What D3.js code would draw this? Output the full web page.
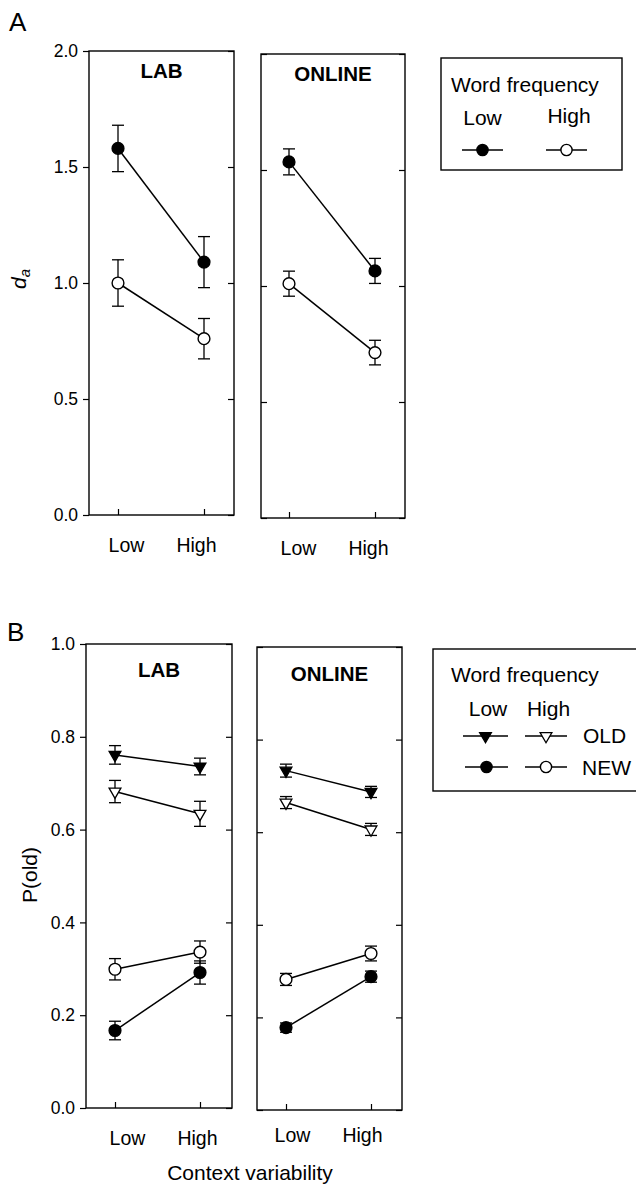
<!DOCTYPE html>
<html>
<head>
<meta charset="utf-8">
<script src="https://cdn.jsdelivr.net/npm/d3@7"></script>
<style>
  body { margin: 0; background: #fff; }
  svg text { font-family: Arial, "Liberation Sans", Helvetica, sans-serif; fill: #000; }
</style>
</head>
<body>
<script>
// categories on the x axis
const contexts = ['Low', 'High'];

// tick values
const daTicks = [0, 0.5, 1.0, 1.5, 2.0];
const pTicks = [0, 0.2, 0.4, 0.6, 0.8, 1.0];

// panel A : d_a (mean, error half width) -- Low / High context
const daLabLowFreq = [1.58, 1.09];
const daLabLowFreqErr = [0.10, 0.11];
const daLabHighFreq = [1.00, 0.76];
const daLabHighFreqErr = [0.10, 0.087];
const daOnlineLowFreq = [1.535, 1.065];
const daOnlineLowFreqErr = [0.056, 0.054];
const daOnlineHighFreq = [1.01, 0.713];
const daOnlineHighFreqErr = [0.054, 0.053];

// panel B : P(old)
const pLabOldLow = [0.761, 0.736];
const pLabOldLowErr = [0.02, 0.018];
const pLabOldHigh = [0.682, 0.634];
const pLabOldHighErr = [0.024, 0.027];
const pLabNewHigh = [0.299, 0.336];
const pLabNewHighErr = [0.023, 0.024];
const pLabNewLow = [0.167, 0.292];
const pLabNewLowErr = [0.02, 0.025];
const pOnlineOldLow = [0.733, 0.687];
const pOnlineOldLowErr = [0.014, 0.012];
const pOnlineOldHigh = [0.664, 0.606];
const pOnlineOldHighErr = [0.013, 0.013];
const pOnlineNewHigh = [0.282, 0.338];
const pOnlineNewHighErr = [0.013, 0.016];
const pOnlineNewLow = [0.178, 0.288];
const pOnlineNewLowErr = [0.01, 0.012];

const width = 636, height = 1189;

const svg = d3.select('body').append('svg')
  .attr('width', width)
  .attr('height', height);

const triSym = d3.symbol(d3.symbolTriangle, 60);

function drawPanel(p) {
  const g = svg.append('g');
  const x = d3.scalePoint().domain(contexts).range(p.xr);
  const y = d3.scaleLinear().domain(p.domain).range([p.bottom, p.top]);

  // frame
  g.append('rect')
    .attr('x', p.left).attr('y', p.top)
    .attr('width', p.right - p.left).attr('height', p.bottom - p.top)
    .attr('fill', 'none').attr('stroke', '#000').attr('stroke-width', 1.4);

  const left = d3.axisLeft(y).tickValues(p.ticks)
    .tickSize(p.labels ? 6 : -6).tickPadding(5)
    .tickFormat(p.labels ? d3.format('.1f') : '');
  g.append('g').attr('transform', 'translate(' + p.left + ',0)').call(left)
    .call(a => a.select('.domain').remove())
    .attr('font-size', 17.5).attr('font-family', null);

  const right = d3.axisRight(y).tickValues(p.ticks).tickSize(-6).tickFormat('');
  g.append('g').attr('transform', 'translate(' + p.right + ',0)').call(right)
    .call(a => a.select('.domain').remove());

  const bottom = d3.axisBottom(x).tickSize(-6).tickPadding(p.lblDy - 13.8);
  g.append('g').attr('transform', 'translate(0,' + p.bottom + ')').call(bottom)
    .call(a => a.select('.domain').remove())
    .attr('font-size', 19.5).attr('font-family', null)
    .selectAll('text').attr('dx', (d, i) => p.lblShift[i]);

  g.selectAll('.tick line').attr('stroke-width', 1.2);

  g.append('text')
    .attr('x', (p.left + p.right) / 2)
    .attr('y', p.top + p.titleDy)
    .attr('text-anchor', 'middle')
    .attr('font-weight', 'bold')
    .attr('font-size', 20.5)
    .text(p.title);

  p.series.forEach(s => {
    const pts = contexts.map((c, i) => ({c: c, v: s.mean[i], e: s.err[i]}));
    g.append('path')
      .attr('d', d3.line().x(d => x(d.c)).y(d => y(d.v))(pts))
      .attr('fill', 'none').attr('stroke', '#000').attr('stroke-width', 1.5);
    // error bars
    pts.forEach(d => {
      const eb = g.append('g').attr('stroke', '#000').attr('stroke-width', 1.3);
      eb.append('line').attr('x1', x(d.c)).attr('x2', x(d.c))
        .attr('y1', y(d.v - d.e)).attr('y2', y(d.v + d.e));
      [d.v - d.e, d.v + d.e].forEach(v => {
        eb.append('line').attr('x1', x(d.c) - 6).attr('x2', x(d.c) + 6)
          .attr('y1', y(v)).attr('y2', y(v));
      });
    });
    pts.forEach(d => drawMarker(g, s.marker, s.filled, x(d.c), y(d.v), 5.9));
  });
}

function drawMarker(g, marker, filled, cx, cy, r) {
  if (marker === 'circle') {
    g.append('circle').attr('cx', cx).attr('cy', cy).attr('r', r)
      .attr('fill', filled ? '#000' : '#fff').attr('stroke', '#000').attr('stroke-width', 1.4);
  } else {
    g.append('path').attr('d', triSym())
      .attr('transform', 'translate(' + cx + ',' + cy + ') rotate(180)')
      .attr('fill', filled ? '#000' : '#fff').attr('stroke', '#000').attr('stroke-width', 1.3);
  }
}

const panels = [
  {title: 'LAB', left: 89, right: 234, top: 51, bottom: 515, xr: [118, 204],
   domain: [0, 2], ticks: daTicks, labels: true, titleDy: 27, lblDy: 37, lblShift: [8, -8],
   series: [
     {mean: daLabLowFreq, err: daLabLowFreqErr, marker: 'circle', filled: true},
     {mean: daLabHighFreq, err: daLabHighFreqErr, marker: 'circle', filled: false}]},
  {title: 'ONLINE', left: 261, right: 405, top: 54, bottom: 518, xr: [289, 375],
   domain: [0, 2], ticks: daTicks, labels: false, titleDy: 27, lblDy: 37, lblShift: [9, -7],
   series: [
     {mean: daOnlineLowFreq, err: daOnlineLowFreqErr, marker: 'circle', filled: true},
     {mean: daOnlineHighFreq, err: daOnlineHighFreqErr, marker: 'circle', filled: false}]},
  {title: 'LAB', left: 86, right: 232, top: 644, bottom: 1108, xr: [115, 200],
   domain: [0, 1], ticks: pTicks, labels: true, titleDy: 33, lblDy: 37, lblShift: [12, -3],
   series: [
     {mean: pLabOldLow, err: pLabOldLowErr, marker: 'tri', filled: true},
     {mean: pLabOldHigh, err: pLabOldHighErr, marker: 'tri', filled: false},
     {mean: pLabNewHigh, err: pLabNewHighErr, marker: 'circle', filled: false},
     {mean: pLabNewLow, err: pLabNewLowErr, marker: 'circle', filled: true}]},
  {title: 'ONLINE', left: 257, right: 402, top: 647, bottom: 1110, xr: [286, 371],
   domain: [0, 1], ticks: pTicks, labels: false, titleDy: 34, lblDy: 32, lblShift: [6, -9],
   series: [
     {mean: pOnlineOldLow, err: pOnlineOldLowErr, marker: 'tri', filled: true},
     {mean: pOnlineOldHigh, err: pOnlineOldHighErr, marker: 'tri', filled: false},
     {mean: pOnlineNewHigh, err: pOnlineNewHighErr, marker: 'circle', filled: false},
     {mean: pOnlineNewLow, err: pOnlineNewLowErr, marker: 'circle', filled: true}]}
];
panels.forEach(drawPanel);

// panel letters
svg.append('text').attr('x', 9).attr('y', 31).attr('font-size', 26).text('A');
svg.append('text').attr('x', 7).attr('y', 641).attr('font-size', 26).text('B');

// y axis titles
const da = svg.append('text')
  .attr('transform', 'translate(26,279) rotate(-90)')
  .attr('text-anchor', 'middle').attr('font-size', 21);
da.append('tspan').attr('font-style', 'italic').text('d');
da.append('tspan').attr('font-style', 'italic').attr('font-size', 15).attr('dy', 4).text('a');

svg.append('text')
  .attr('transform', 'translate(37,875) rotate(-90)')
  .attr('text-anchor', 'middle').attr('font-size', 21)
  .text('P(old)');

svg.append('text').attr('x', 250).attr('y', 1180)
  .attr('text-anchor', 'middle').attr('font-size', 21)
  .text('Context variability');

// legend helpers
function legendLine(g, x0, x1, y, marker, filled) {
  g.append('line').attr('x1', x0).attr('x2', x1).attr('y1', y).attr('y2', y)
    .attr('stroke', '#000').attr('stroke-width', 1.4);
  drawMarker(g, marker, filled, (x0 + x1) / 2, y, 5.6);
}

// legend A
const legA = svg.append('g');
legA.append('rect').attr('x', 441).attr('y', 58).attr('width', 181).attr('height', 112)
  .attr('fill', 'none').attr('stroke', '#000').attr('stroke-width', 1.4);
legA.append('text').attr('x', 451).attr('y', 92).attr('font-size', 21).text('Word frequency');
legA.append('text').attr('x', 482.5).attr('y', 125).attr('text-anchor', 'middle').attr('font-size', 21).text(contexts[0]);
legA.append('text').attr('x', 569).attr('y', 123).attr('text-anchor', 'middle').attr('font-size', 21).text(contexts[1]);
legendLine(legA, 462, 503, 150, 'circle', true);
legendLine(legA, 546, 587, 150, 'circle', false);

// legend B
const legB = svg.append('g');
legB.append('rect').attr('x', 433).attr('y', 649).attr('width', 210).attr('height', 142)
  .attr('fill', 'none').attr('stroke', '#000').attr('stroke-width', 1.4);
legB.append('text').attr('x', 451).attr('y', 682).attr('font-size', 21).text('Word frequency');
legB.append('text').attr('x', 488).attr('y', 716).attr('text-anchor', 'middle').attr('font-size', 21).text(contexts[0]);
legB.append('text').attr('x', 548.5).attr('y', 716).attr('text-anchor', 'middle').attr('font-size', 21).text(contexts[1]);
legendLine(legB, 463, 508, 736, 'tri', true);
legendLine(legB, 525, 567, 736, 'tri', false);
legendLine(legB, 465, 508, 767, 'circle', true);
legendLine(legB, 525, 567, 767, 'circle', false);
legB.append('text').attr('x', 583).attr('y', 743).attr('font-size', 21).text('OLD');
legB.append('text').attr('x', 582).attr('y', 775).attr('font-size', 21).text('NEW');
</script>
</body>
</html>
